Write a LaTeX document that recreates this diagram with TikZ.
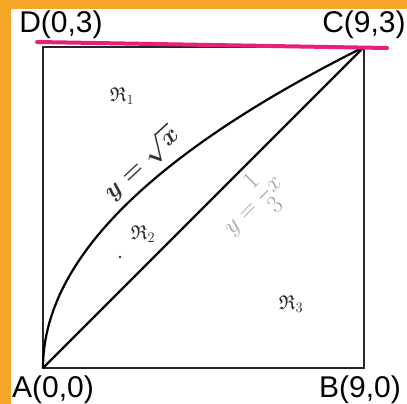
\documentclass[tikz,border=0pt]{standalone}
\usepackage{amsmath}
\usepackage{amssymb}
\usepackage{fontspec}
\setmainfont{Liberation Sans}
\definecolor{bgorange}{RGB}{246,166,38}
\definecolor{hlpink}{RGB}{232,32,122}
\begin{document}
\begin{tikzpicture}[x=1pt,y=-1pt,
  edge/.style={line width=1.4pt, draw=black!85},
  curveline/.style={line width=2.2pt, draw=black},
  lbl/.style={inner sep=0pt, font=\fontsize{30}{30}\selectfont},
  reg/.style={inner sep=0pt, text=black!85, font=\fontsize{20}{20}\selectfont},
  handtxt/.style={inner sep=0pt, text=black!80, font=\fontsize{24}{24}\selectfont\boldmath},
  fainttxt/.style={inner sep=0pt, text=black!35, font=\fontsize{25}{25}\selectfont}]
\useasboundingbox (0,0) rectangle (407,404);
\fill[white] (0,0) rectangle (407,404);
\fill[bgorange] (0,0) rectangle (11,404);
\fill[bgorange] (0,0) rectangle (407,9);
\begin{scope}[shift={(43,368)}, x=35.667pt, y=107pt]
  \coordinate (A) at (0,0);
  \coordinate (B) at (9,0);
  \coordinate (C) at (9,3);
  \coordinate (D) at (0,3);
  \draw[edge] (A) -- (B) -- (C) -- (D) -- cycle;
  \draw[curveline] (A) -- (C);
  \draw[curveline] plot[domain=0:3, samples=120, smooth] ({\x*\x}, \x);
\end{scope}
\coordinate (P1) at (37,42);
\coordinate (P2) at (387,48);
\draw[hlpink, line width=4pt, line cap=round] (P1) -- (P2);
\node[lbl] (la) at (53,390) {A(0,0)};
\node[lbl] (lb) at (360,390) {B(9,0)};
\node[lbl] (ld) at (61,25) {D(0,3)};
\node[lbl] (lc) at (364,25) {C(9,3)};
\node[reg] (r1) at (122,96) {$\mathfrak{R}_1$};
\node[reg] (r2) at (143,234) {$\mathfrak{R}_2$};
\node[reg] (r3) at (291,304) {$\mathfrak{R}_3$};
\node[circle, fill=black!80, inner sep=0pt, minimum size=2.6pt] (dot) at (120,257) {};
\node[handtxt, rotate=43] (ecurve) at (141,163) {$y=\sqrt{x}$};
\node[fainttxt, rotate=45] (eline) at (252,204) {$\displaystyle y=\frac{1}{3}x$};
\end{tikzpicture}
\end{document}
